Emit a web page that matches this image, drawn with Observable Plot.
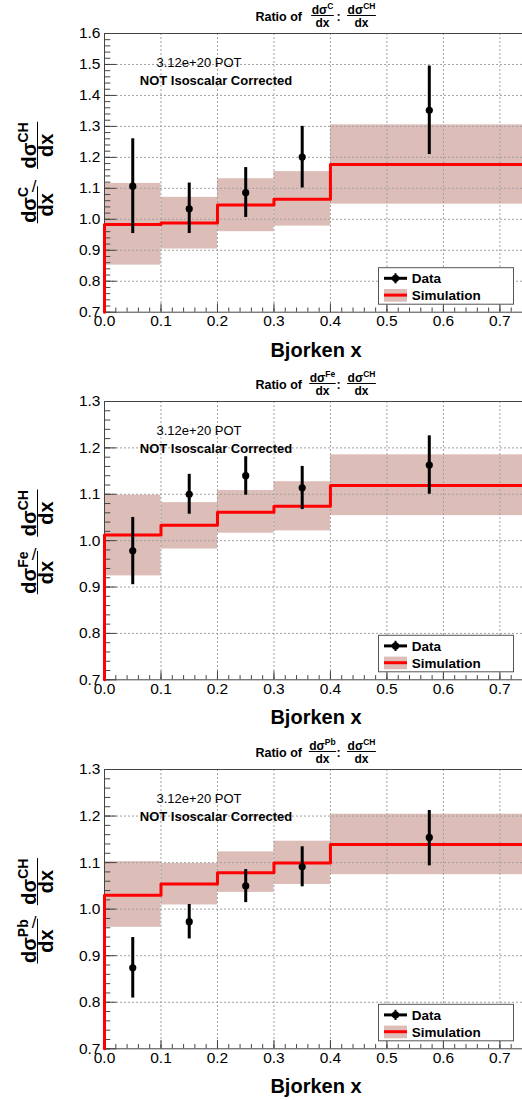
<!DOCTYPE html>
<html><head><meta charset="utf-8">
<script src="https://cdn.jsdelivr.net/npm/d3@7"></script>
<script src="https://cdn.jsdelivr.net/npm/@observablehq/plot@0.6"></script>
<style>
html,body{margin:0;padding:0;background:#fff;overflow:hidden;}
#wrap{width:522px;}
#wrap svg{display:block;}
</style></head><body><div id="wrap"></div>
<script>
const FONT = '"Liberation Sans", Arial, Helvetica, sans-serif';

// bins and ticks
const xEdges = [0, 0.1, 0.2, 0.3, 0.4, 0.75];
const xCenters = [0.05, 0.15, 0.25, 0.35, 0.575];
const xTicks = [0, 0.1, 0.2, 0.3, 0.4, 0.5, 0.6, 0.7];
const yTicksC = [0.7, 0.8, 0.9, 1.0, 1.1, 1.2, 1.3, 1.4, 1.5, 1.6];
const yTicksFePb = [0.7, 0.8, 0.9, 1.0, 1.1, 1.2, 1.3];

// Carbon / CH
const cData = [1.107, 1.034, 1.086, 1.201, 1.352];
const cLow = [0.954, 0.954, 1.006, 1.101, 1.209];
const cHigh = [1.260, 1.117, 1.167, 1.300, 1.495];
const cSim = [0.983, 0.988, 1.046, 1.065, 1.177];
const cBandLow = [0.852, 0.904, 0.960, 0.978, 1.049];
const cBandHigh = [1.116, 1.071, 1.131, 1.154, 1.305];

// Iron / CH
const feData = [0.978, 1.100, 1.140, 1.114, 1.163];
const feLow = [0.905, 1.057, 1.098, 1.067, 1.100];
const feHigh = [1.050, 1.143, 1.181, 1.160, 1.226];
const feSim = [1.012, 1.033, 1.061, 1.074, 1.119];
const feBandLow = [0.924, 0.982, 1.016, 1.021, 1.054];
const feBandHigh = [1.098, 1.082, 1.108, 1.127, 1.185];

// Lead / CH
const pbData = [0.874, 0.973, 1.050, 1.091, 1.154];
const pbLow = [0.809, 0.936, 1.014, 1.048, 1.093];
const pbHigh = [0.939, 1.010, 1.085, 1.134, 1.212];
const pbSim = [1.030, 1.054, 1.078, 1.099, 1.139];
const pbBandLow = [0.961, 1.009, 1.036, 1.053, 1.074];
const pbBandHigh = [1.102, 1.098, 1.123, 1.146, 1.204];

const BAND = "#dcbdb8";
const AXIS = "#444";
const GRID = "#a0a0a0";

function frac(g, cx, barY, sup, fs, ss, supDy, numOff, denOff) {
  const num = g.append("text").attr("x", cx).attr("y", barY - numOff)
    .attr("text-anchor", "middle").attr("font-size", fs);
  num.append("tspan").text("dσ");
  num.append("tspan").attr("font-size", ss).attr("dy", supDy).text(sup);
  g.append("text").attr("x", cx).attr("y", barY + denOff)
    .attr("text-anchor", "middle").attr("font-size", fs).text("dx");
  const w = num.node().getComputedTextLength();
  g.append("line").attr("x1", cx - w / 2 - 0.5).attr("x2", cx + w / 2 + 0.5)
    .attr("y1", barY).attr("y2", barY).attr("stroke", "#000").attr("stroke-width", 1);
}

function panel(cfg) {
  const {sup, data, low, high, sim, bandLow, bandHigh, yTicks, height, marginBottom} = cfg;
  const yDomain = [yTicks[0], yTicks[yTicks.length - 1]];
  const marginTop = 33, marginLeft = 104, width = 522;
  const rows = xCenters.map((x, i) => ({x, y: data[i], lo: low[i], hi: high[i]}));
  const bins = sim.map((s, i) => ({x1: xEdges[i], x2: xEdges[i + 1], s, b1: bandLow[i], b2: bandHigh[i]}));
  const stepPts = [{x: xEdges[0], y: yDomain[0]}]
    .concat(bins.map(b => ({x: b.x1, y: b.s})))
    .concat([{x: xEdges[xEdges.length - 1], y: sim[sim.length - 1]}]);
  const yMinor = d3.range(Math.round((yDomain[1] - yDomain[0]) / 0.02) + 1).map(i => yDomain[0] + i * 0.02);
  const xMinor = d3.range(38).map(i => i * 0.02);
  const fmt = d3.format(".1f");
  const svgEl = Plot.plot({
    width, height, marginTop, marginBottom, marginLeft, marginRight: 0,
    x: {domain: [0, 0.74], label: null},
    y: {domain: yDomain, label: null},
    style: {fontFamily: FONT, background: "#fff", color: "#000"},
    marks: [
      Plot.rect(bins, {x1: "x1", x2: "x2", y1: "b1", y2: "b2", fill: BAND, clip: true}),
      Plot.gridX(xTicks.slice(1), {stroke: GRID, strokeOpacity: 1, strokeDasharray: "2,2"}),
      Plot.gridY(yTicks.slice(1, -1), {stroke: GRID, strokeOpacity: 1, strokeDasharray: "2,2"}),
      Plot.axisY(yMinor, {anchor: "left", tickSize: -6.3, stroke: AXIS, fill: "none", tickFormat: () => "", label: null}),
      Plot.axisY(yTicks, {anchor: "left", tickSize: -12.5, stroke: AXIS, fill: "none", tickFormat: () => "", label: null}),
      Plot.axisX(xMinor, {anchor: "bottom", tickSize: -4.2, stroke: AXIS, fill: "none", tickFormat: () => "", label: null}),
      Plot.axisX(xTicks, {anchor: "bottom", tickSize: -8.4, stroke: AXIS, fill: "none", tickFormat: () => "", label: null}),
      Plot.axisY(yTicks, {anchor: "left", tickSize: 0, tickPadding: 4, fontSize: 15.5, tickFormat: fmt, label: null}),
      Plot.axisX(xTicks, {anchor: "bottom", tickSize: 0, tickPadding: 3, fontSize: 15.5, tickFormat: fmt, label: null}),
      Plot.ruleY(yDomain, {stroke: AXIS}),
      Plot.ruleX([xEdges[0]], {stroke: AXIS}),
      Plot.line(stepPts, {x: "x", y: "y", curve: "step-after", stroke: "#ff0000", strokeWidth: 3}),
      Plot.ruleX(rows, {x: "x", y1: "lo", y2: "hi", stroke: "#000", strokeWidth: 3}),
      Plot.dot(rows, {x: "x", y: "y", r: 3.6, fill: "#000", stroke: "none"})
    ]
  });
  document.getElementById("wrap").appendChild(svgEl);
  const svg = d3.select(svgEl);
  const fb = height - marginBottom;          // frame bottom
  const cy = (marginTop + fb) / 2;           // frame vertical center
  const deco = svg.append("g").attr("font-family", FONT).attr("fill", "#000").attr("text-anchor", "start");

  // Title
  const t = deco.append("g").attr("font-weight", "bold");
  t.append("text").attr("x", 302).attr("y", 20.5).attr("text-anchor", "end").attr("font-size", 12.5).text("Ratio of");
  frac(t, 322.5, 15.5, sup, 12, 8.5, -5, 1.8, 11.3);
  t.append("text").attr("x", 338.7).attr("y", 20.5).attr("text-anchor", "middle").attr("font-size", 12.5).text(":");
  frac(t, 361.5, 15.5, "CH", 12, 8.5, -5, 1.8, 11.3);

  // Y axis title (rotated)
  const yl = deco.append("g").attr("font-weight", "bold").attr("transform", `translate(0,${cy}) rotate(-90)`);
  frac(yl, -32.5, 37.5, sup, 20, 14, -8, 2, 15.5);
  frac(yl, 27, 37.5, "CH", 20, 14, -8, 2, 15.5);
  deco.append("text").attr("x", 34).attr("y", cy + 19.5).attr("text-anchor", "middle").attr("font-size", 17).text("/");

  // X axis title
  deco.append("text").attr("x", 316).attr("y", fb + 45).attr("text-anchor", "middle")
    .attr("font-size", 20).attr("font-weight", "bold").text("Bjorken x");

  // Annotations
  deco.append("text").attr("x", 199).attr("y", marginTop + 34).attr("text-anchor", "middle")
    .attr("font-size", 13).text("3.12e+20 POT");
  deco.append("text").attr("x", 216).attr("y", marginTop + 52.3).attr("text-anchor", "middle")
    .attr("font-size", 13).attr("font-weight", "bold").text("NOT Isoscalar Corrected");

  // Legend
  const lg = deco.append("g");
  lg.append("rect").attr("x", 378.5).attr("y", fb - 44).attr("width", 135).attr("height", 36.5)
    .attr("fill", "#fff").attr("stroke", "#555").attr("stroke-width", 1);
  lg.append("line").attr("x1", 384).attr("x2", 407).attr("y1", fb - 33.4).attr("y2", fb - 33.4)
    .attr("stroke", "#000").attr("stroke-width", 3);
  lg.append("line").attr("x1", 395.5).attr("x2", 395.5).attr("y1", fb - 38.5).attr("y2", fb - 28.3)
    .attr("stroke", "#000").attr("stroke-width", 2);
  lg.append("circle").attr("cx", 395.5).attr("cy", fb - 33.4).attr("r", 3.6).attr("fill", "#000");
  lg.append("rect").attr("x", 384).attr("y", fb - 22.7).attr("width", 23).attr("height", 12.7).attr("fill", BAND);
  lg.append("line").attr("x1", 384).attr("x2", 407).attr("y1", fb - 16.6).attr("y2", fb - 16.6)
    .attr("stroke", "#ff0000").attr("stroke-width", 3);
  lg.append("text").attr("x", 411.7).attr("y", fb - 28.8).attr("text-anchor", "start")
    .attr("font-size", 13.5).attr("font-weight", "bold").text("Data");
  lg.append("text").attr("x", 411.7).attr("y", fb - 11.7).attr("text-anchor", "start")
    .attr("font-size", 13.5).attr("font-weight", "bold").text("Simulation");
}

panel({sup: "C", data: cData, low: cLow, high: cHigh, sim: cSim, bandLow: cBandLow, bandHigh: cBandHigh,
  yTicks: yTicksC, height: 368, marginBottom: 56.3});
panel({sup: "Fe", data: feData, low: feLow, high: feHigh, sim: feSim, bandLow: feBandLow, bandHigh: feBandHigh,
  yTicks: yTicksFePb, height: 368, marginBottom: 56.7});
panel({sup: "Pb", data: pbData, low: pbLow, high: pbHigh, sim: pbSim, bandLow: pbBandLow, bandHigh: pbBandHigh,
  yTicks: yTicksFePb, height: 364, marginBottom: 51.7});
</script></body></html>
